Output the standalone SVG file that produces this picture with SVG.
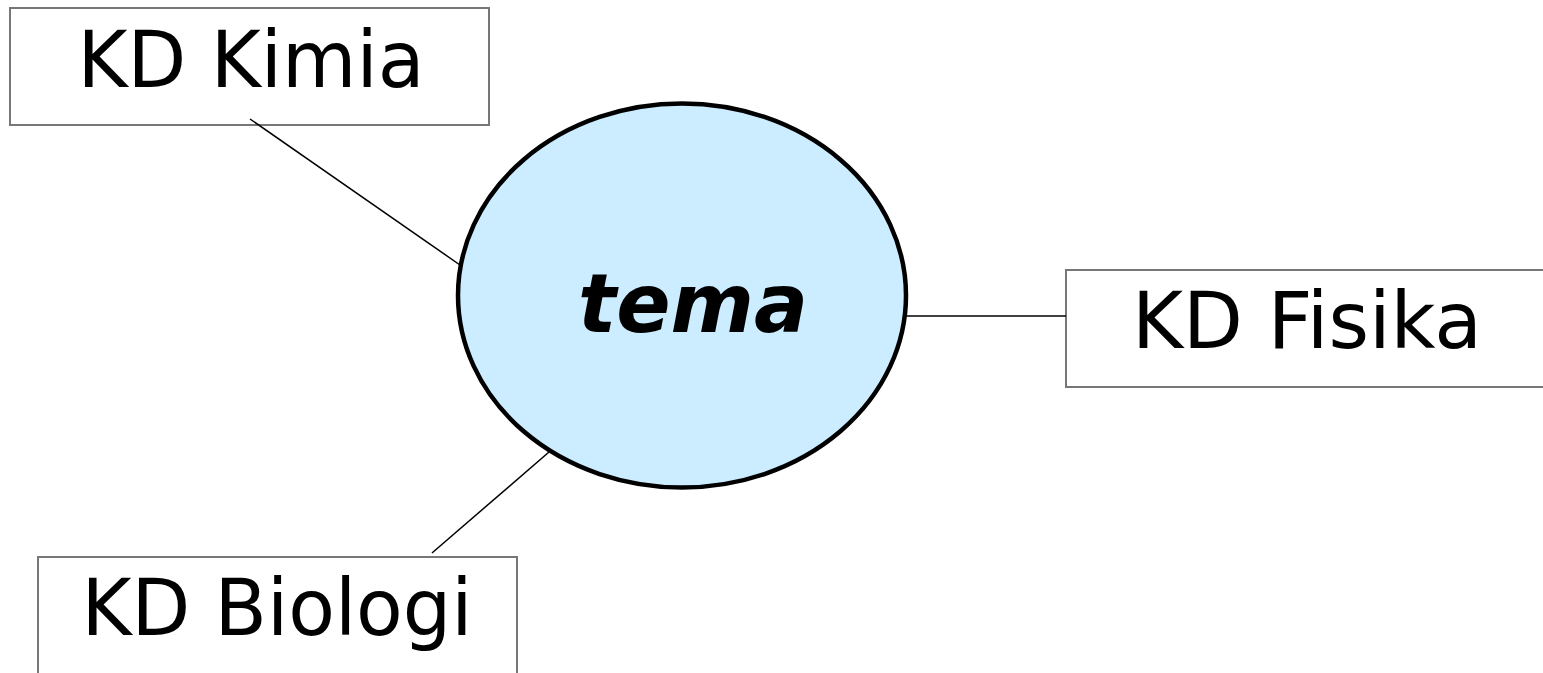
<svg xmlns="http://www.w3.org/2000/svg" width="1543" height="673" viewBox="0 0 1543 673">
<style>
.box{fill:#fff;stroke:#777;stroke-width:2}
.lbl{font-family:"DejaVu Sans",sans-serif;font-size:79px;fill:#000;text-anchor:middle}
.conn{stroke:#000;stroke-width:1.5;fill:none}
</style>
<rect width="1543" height="673" fill="#fff"/>
<g id="kimia">
<rect class="box" x="10" y="8" width="479" height="117"/>
<text class="lbl" x="251" y="87" textLength="347" lengthAdjust="spacingAndGlyphs">KD Kimia</text>
</g>
<g id="fisika">
<rect class="box" x="1066" y="270" width="490" height="117"/>
<text class="lbl" x="1307" y="348" textLength="350" lengthAdjust="spacingAndGlyphs">KD Fisika</text>
</g>
<g id="biologi">
<rect class="box" x="38" y="557" width="479" height="130"/>
<text class="lbl" x="277" y="635" textLength="391" lengthAdjust="spacingAndGlyphs">KD Biologi</text>
</g>
<g id="connectors">
<line class="conn" x1="250" y1="119" x2="460" y2="265"/>
<line class="conn" x1="905" y1="316" x2="1066" y2="316"/>
<line class="conn" x1="549" y1="452" x2="432" y2="553"/>
</g>
<g id="tema">
<ellipse cx="682" cy="295.5" rx="224" ry="192" fill="#CCECFF" stroke="#000" stroke-width="4.5"/>
<text x="693" y="332" font-family="'DejaVu Sans',sans-serif" font-weight="bold" font-style="italic" font-size="82" text-anchor="middle" textLength="230" lengthAdjust="spacingAndGlyphs">tema</text>
</g>
</svg>
